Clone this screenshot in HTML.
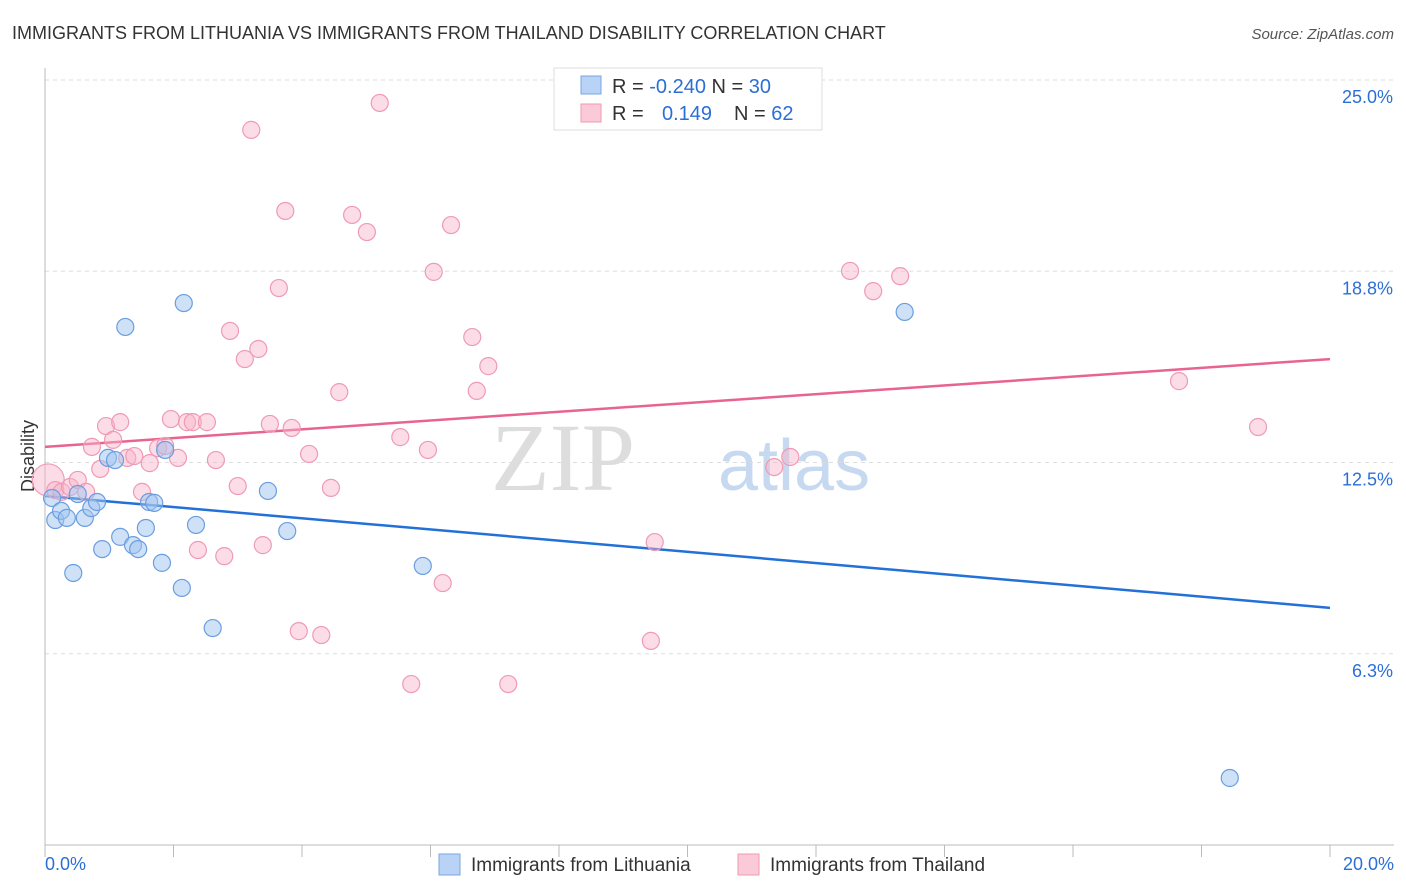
<!DOCTYPE html>
<html><head><meta charset="utf-8"><style>
body{margin:0;background:#fff;font-family:"Liberation Sans",sans-serif;}
svg{display:block}
</style></head><body>
<svg id="chart" width="1406" height="892">
<text x="12" y="39" font-size="18" fill="#333">IMMIGRANTS FROM LITHUANIA VS IMMIGRANTS FROM THAILAND DISABILITY CORRELATION CHART</text>
<text x="1394" y="39" font-size="15" fill="#555" font-style="italic" text-anchor="end">Source: ZipAtlas.com</text>
<text x="34" y="456" font-size="18" fill="#333" transform="rotate(-90 34 456)" text-anchor="middle">Disability</text>
<g><text x="635" y="490" font-size="96" font-family="Liberation Serif" fill="#ddd" text-anchor="end">ZIP</text><text x="718" y="490" font-size="72" fill="#c6d9f0">atlas</text></g>
<g id="grid"></g><g id="axes"></g><g id="lines"></g><g id="pts"></g>
<g>
<rect x="554" y="68" width="268" height="62" fill="#fff" stroke="#ddd"/>
<rect x="581" y="76" width="20" height="18" fill="#b8d3f5" stroke="#7aa7e0"/>
<rect x="581" y="104" width="20" height="18" fill="#fbcad8" stroke="#ef9ab4"/>
<text x="612" y="93" font-size="20" fill="#333">R = <tspan fill="#2b6fd6">-0.240</tspan>   N = <tspan fill="#2b6fd6">30</tspan></text>
<text x="612" y="120" font-size="20" fill="#333">R =   <tspan fill="#2b6fd6" x="662">0.149</tspan><tspan x="734">N = </tspan><tspan fill="#2b6fd6">62</tspan></text>
</g>
<g>
<rect x="439" y="854" width="21" height="21" fill="#b8d3f5" stroke="#7aa7e0"/>
<text x="471" y="871" font-size="19" fill="#333">Immigrants from Lithuania</text>
<rect x="738" y="854" width="21" height="21" fill="#fbcad8" stroke="#ef9ab4"/>
<text x="770" y="871" font-size="19" fill="#333">Immigrants from Thailand</text>
</g>
</svg>
<script>
const yTicks=[25,18.75,12.5,6.25];
const yTickLabels=["25.0%","18.8%","12.5%","6.3%"];
const xTickLabels=["0.0%","20.0%"];
const blueX=[0.11,0.16,0.25,0.34,0.44,0.51,0.62,0.72,0.81,0.89,0.98,1.09,1.17,1.25,1.37,1.45,1.57,1.62,1.70,1.82,1.87,2.13,2.16,2.35,2.61,3.47,3.77,5.88,13.38,18.44];
const blueY=[11.34,10.62,10.92,10.69,8.89,11.47,10.69,11.01,11.21,9.67,12.65,12.58,10.07,16.93,9.80,9.67,10.36,11.21,11.18,9.22,12.91,8.40,17.71,10.46,7.09,11.57,10.26,9.12,17.42,2.19];
const pinkX=[0.05,0.16,0.26,0.39,0.51,0.64,0.73,0.86,0.95,1.06,1.17,1.28,1.39,1.51,1.63,1.76,1.87,1.96,2.07,2.21,2.30,2.38,2.52,2.66,2.79,2.88,3.00,3.11,3.21,3.32,3.39,3.50,3.64,3.74,3.84,3.95,4.11,4.30,4.45,4.58,4.78,5.01,5.21,5.53,5.70,5.96,6.05,6.19,6.32,6.65,6.72,6.90,7.21,9.43,9.49,11.35,11.60,12.53,12.89,13.31,17.65,18.88];
const pinkY=[11.93,11.60,11.54,11.70,11.93,11.54,13.01,12.29,13.69,13.24,13.82,12.65,12.71,11.54,12.48,12.97,13.04,13.92,12.65,13.82,13.82,9.64,13.82,12.58,9.44,16.80,11.73,15.88,23.37,16.21,9.80,13.76,18.20,20.72,13.63,6.99,12.78,6.86,11.67,14.80,20.59,20.03,24.25,13.33,5.26,12.91,18.73,8.56,20.26,16.60,14.84,15.65,5.26,6.67,9.90,12.35,12.68,18.76,18.10,18.59,15.16,13.66];
const blueTrend=[11.41,7.75];
const pinkTrend=[13.01,15.88];
const NS="http://www.w3.org/2000/svg";
const X=v=>45+v/20*1285, Y=v=>845-v*30.6;
function mk(t,a,p){const e=document.createElementNS(NS,t);for(const k in a)e.setAttribute(k,a[k]);p.appendChild(e);return e;}
const grid=document.getElementById('grid'),axes=document.getElementById('axes');
yTicks.forEach((t,i)=>{
 const l=mk('line',{x1:45,x2:1394,y1:Y(t),y2:Y(t),stroke:'#ddd','stroke-dasharray':'4 4'},grid);
 
 
 const tx=mk('text',{x:1393,y:Y(t)+23,'font-size':18,fill:'#2b6fd6','text-anchor':'end'},axes);
 tx.textContent=yTickLabels[i];
 
 
});
mk('line',{x1:45,x2:45,y1:68,y2:845,stroke:'#bbb'},axes);
mk('line',{x1:45,x2:1394,y1:845,y2:845,stroke:'#bbb'},axes);
for(let i=0;i<=10;i++){const t=mk('line',{x1:X(i*2),x2:X(i*2),y1:845,y2:857,stroke:'#bbb'},axes);
 
 }
[[0,45,'start'],[20,1394,'end']].forEach((d,i)=>{const t=mk('text',{x:d[1],y:870,'font-size':18,fill:'#2b6fd6','text-anchor':d[2]},axes);t.textContent=xTickLabels[i];
 
 });
const pts=document.getElementById('pts');
pinkX.forEach((x,i)=>{const c=mk('circle',{cx:X(x),cy:Y(pinkY[i]),r:i==0?16:8.5,fill:'rgba(248,180,202,0.45)',stroke:'#ef9ab4','stroke-width':1.2},pts);
 
 });
blueX.forEach((x,i)=>{const c=mk('circle',{cx:X(x),cy:Y(blueY[i]),r:8.5,fill:'rgba(160,196,240,0.5)',stroke:'#6a9ee0','stroke-width':1.2},pts);
 
 });
const lines=document.getElementById('lines');
const pl=mk('line',{x1:X(0),x2:X(20),y1:Y(pinkTrend[0]),y2:Y(pinkTrend[1]),stroke:'#e8648f','stroke-width':2.5},lines);


const bl=mk('line',{x1:X(0),x2:X(20),y1:Y(blueTrend[0]),y2:Y(blueTrend[1]),stroke:'#2270d8','stroke-width':2.5},lines);


</script>
</body></html>
